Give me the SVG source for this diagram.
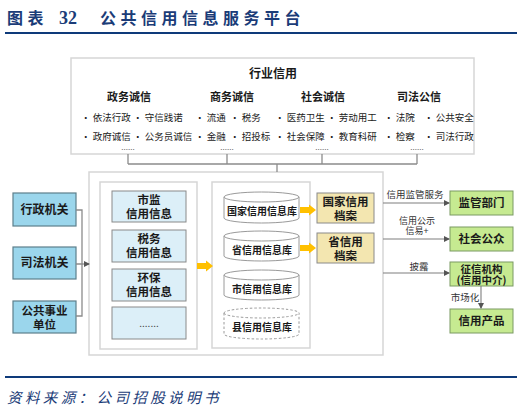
<svg xmlns="http://www.w3.org/2000/svg" width="524" height="412" viewBox="0 0 524 412">
<defs>
<style>
text{font-family:"Noto Sans CJK SC","Liberation Sans",sans-serif;fill:#1a1a1a}
.title{font-size:16px;font-weight:bold;fill:#1B3C78;letter-spacing:4.5px}
.num{font-family:"Liberation Serif","Noto Sans CJK SC",serif;font-size:18px;font-weight:bold;fill:#1B3C78}
.src{font-size:14.5px;font-style:italic;fill:#1B3C78;letter-spacing:3.4px}
.frame{fill:#fff;stroke:#d6d6d6;stroke-width:1.5}
.h1{font-size:12px;font-weight:bold;text-anchor:middle}
.h2{font-size:11px;font-weight:bold;text-anchor:middle}
.it{font-size:9.5px;fill:#333}
.dots{font-size:8px;fill:#666;text-anchor:middle}
.conn{fill:none;stroke:#8c8c8c;stroke-width:1.3}
.src-box{fill:#9BD6EC;stroke:#5d7f8c;stroke-width:1.2}
.info{fill:#DCEFF8;stroke:#8a8a8a;stroke-width:1}
.cyl{fill:#fff;stroke:#9a9a9a;stroke-width:1}
.cyl-d{fill:#fff;stroke:#9a9a9a;stroke-width:1;stroke-dasharray:2.5 2}
.arch{fill:#F3E6B0;stroke:#8a8a8a;stroke-width:1}
.grn{fill:#C6EA91;stroke:#7a9a62;stroke-width:1}
.bt{font-size:11.5px;font-weight:bold;text-anchor:middle}
.ct{font-size:10px;font-weight:bold;text-anchor:middle}
.lbl{font-size:9.5px;fill:#333;text-anchor:middle}
.orange{fill:#FFC000}
.line{stroke:#7f7f7f;stroke-width:1.1;fill:none;marker-end:url(#ah)}
</style>
<marker id="ah" viewBox="0 0 6 6" refX="5" refY="3" markerWidth="6" markerHeight="6" markerUnits="userSpaceOnUse" orient="auto">
<path d="M0,0 L6,3 L0,6 Z" fill="#555"/>
</marker>
<path id="oarrow" d="M0,-3 H9 V-5.5 L16,0 L9,5.5 V3 H0 Z"/>
</defs>

<rect width="524" height="412" fill="#fff"/>

<g id="header">
<text x="7" y="24" class="title">图表</text>
<text x="59" y="24" class="num">32</text>
<text x="100" y="24" class="title">公共信用信息服务平台</text>
<line x1="5" y1="33" x2="517" y2="33" stroke="#0E3A7A" stroke-width="2"/>
</g>

<g id="industry-credit">
<rect x="71" y="58" width="403" height="96" class="frame"/>
<text x="273" y="78" class="h1">行业信用</text>
<text x="129" y="101" class="h2">政务诚信</text>
<text x="232" y="101" class="h2">商务诚信</text>
<text x="323" y="101" class="h2">社会诚信</text>
<text x="419" y="101" class="h2">司法公信</text>
<g class="it">
<text x="81" y="121">• 依法行政</text>
<text x="133" y="121">• 守信践诺</text>
<text x="195" y="121">• 流通</text>
<text x="230" y="121">• 税务</text>
<text x="275" y="121">• 医药卫生</text>
<text x="327" y="121">• 劳动用工</text>
<text x="384" y="121">• 法院</text>
<text x="424" y="121">• 公共安全</text>
<text x="81" y="140">• 政府诚信</text>
<text x="133" y="140">• 公务员诚信</text>
<text x="195" y="140">• 金融</text>
<text x="230" y="140">• 招投标</text>
<text x="275" y="140">• 社会保障</text>
<text x="327" y="140">• 教育科研</text>
<text x="384" y="140">• 检察</text>
<text x="424" y="140">• 司法行政</text>
</g>
<text x="128" y="150" class="dots">......</text>
<text x="227" y="150" class="dots">......</text>
<text x="322" y="150" class="dots">......</text>
<text x="417" y="150" class="dots">......</text>
</g>

<g id="platform">
<rect x="89" y="172" width="294" height="183" class="frame"/>
<rect x="100" y="182" width="97" height="167" class="frame"/>
<rect x="212" y="182" width="98" height="166" class="frame"/>
</g>

<g id="src-admin">
<rect x="13" y="193" width="63" height="33" class="src-box"/>
<text x="44.5" y="214" class="h1">行政机关</text>
</g>
<g id="src-judicial">
<rect x="13" y="247" width="63" height="32" class="src-box"/>
<text x="44.5" y="267" class="h1">司法机关</text>
</g>
<g id="src-public">
<rect x="13" y="301" width="63" height="32" class="src-box"/>
<text x="44.5" y="314.5" class="h1" style="font-size:11.5px">公共事业</text>
<text x="44.5" y="328.5" class="h1" style="font-size:11.5px">单位</text>
</g>

<g id="info-market">
<rect x="112" y="191" width="74" height="31" class="info"/>
<text x="149" y="204" class="bt">市监</text>
<text x="149" y="218" class="bt">信用信息</text>
</g>
<g id="info-tax">
<rect x="112" y="230" width="74" height="32" class="info"/>
<text x="149" y="243" class="bt">税务</text>
<text x="149" y="257" class="bt">信用信息</text>
</g>
<g id="info-env">
<rect x="112" y="269" width="74" height="32" class="info"/>
<text x="149" y="282" class="bt">环保</text>
<text x="149" y="296" class="bt">信用信息</text>
</g>
<g id="info-more">
<rect x="112" y="307" width="74" height="32" class="info"/>
<text x="149" y="327" class="dots" style="font-size:10px;fill:#444">.......</text>
</g>

<g id="db-national">
<path d="M224,197 V218 A37.5,5 0 0 0 299,218 V197 A37.5,5 0 0 0 224,197 Z" class="cyl"/>
<path d="M224,197 A37.5,5 0 0 0 299,197" class="cyl"/>
<text x="262" y="215" class="ct">国家信用信息库</text>
</g>
<g id="db-province">
<path d="M224,236 V256 A37.5,5 0 0 0 299,256 V236 A37.5,5 0 0 0 224,236 Z" class="cyl"/>
<path d="M224,236 A37.5,5 0 0 0 299,236" class="cyl"/>
<text x="262" y="254" class="ct">省信用信息库</text>
</g>
<g id="db-city">
<path d="M224,275 V295 A37.5,5 0 0 0 299,295 V275 A37.5,5 0 0 0 224,275 Z" class="cyl"/>
<path d="M224,275 A37.5,5 0 0 0 299,275" class="cyl"/>
<text x="262" y="293" class="ct">市信用信息库</text>
</g>
<g id="db-county">
<path d="M224,313 V334 A37.5,5 0 0 0 299,334 V313 A37.5,5 0 0 0 224,313 Z" class="cyl-d"/>
<path d="M224,313 A37.5,5 0 0 0 299,313" class="cyl-d"/>
<text x="262" y="331" class="ct">县信用信息库</text>
</g>

<g id="archive-national">
<rect x="317" y="193" width="57" height="30" class="arch"/>
<text x="345.5" y="206" class="bt">国家信用</text>
<text x="345.5" y="220" class="bt">档案</text>
</g>
<g id="archive-province">
<rect x="317" y="233" width="57" height="30" class="arch"/>
<text x="345.5" y="246" class="bt">省信用</text>
<text x="345.5" y="260" class="bt">档案</text>
</g>

<g id="user-regulator">
<rect x="450" y="191" width="63" height="24" class="grn"/>
<text x="481.5" y="207" class="bt">监管部门</text>
</g>
<g id="user-public">
<rect x="450" y="227" width="63" height="24" class="grn"/>
<text x="481.5" y="243" class="bt">社会公众</text>
</g>
<g id="user-agency">
<rect x="450" y="262" width="63" height="24" class="grn"/>
<text x="481.5" y="272.5" class="bt" style="font-size:10.5px">征信机构</text>
<text x="481.5" y="284" class="bt" style="font-size:10.5px">(信用中介)</text>
</g>
<g id="user-product">
<rect x="450" y="309" width="63" height="24" class="grn"/>
<text x="481.5" y="325" class="bt">信用产品</text>
</g>

<g id="connectors">
<path d="M128,154 V164 M227,154 V164 M322,154 V164 M417,154 V164 M128,164 H417 M277,164 V172" class="conn"/>
<path d="M76,210 H82 V316 H76 M76,264 H82" class="conn"/>
<line x1="82" y1="264" x2="89" y2="264" class="line"/>
<use href="#oarrow" x="197" y="266" class="orange"/>
<use href="#oarrow" x="300" y="210" class="orange"/>
<use href="#oarrow" x="300" y="248" class="orange"/>
<line x1="383" y1="203" x2="449" y2="203" class="line"/>
<line x1="383" y1="239" x2="449" y2="239" class="line"/>
<line x1="383" y1="273" x2="449" y2="273" class="line"/>
<line x1="481" y1="286" x2="481" y2="308" class="line"/>
<text x="415" y="198" class="lbl">信用监管服务</text>
<text x="417" y="223.5" class="lbl" style="font-size:9px">信用公示</text>
<text x="417" y="234" class="lbl" style="font-size:9px">信易+</text>
<text x="419" y="270" class="lbl">披露</text>
<text x="465" y="301" class="lbl">市场化</text>
</g>

<g id="footer">
<line x1="5" y1="377" x2="517" y2="377" stroke="#0E3A7A" stroke-width="2"/>
<text x="7" y="403" class="src">资料来源：公司招股说明书</text>
</g>
</svg>
